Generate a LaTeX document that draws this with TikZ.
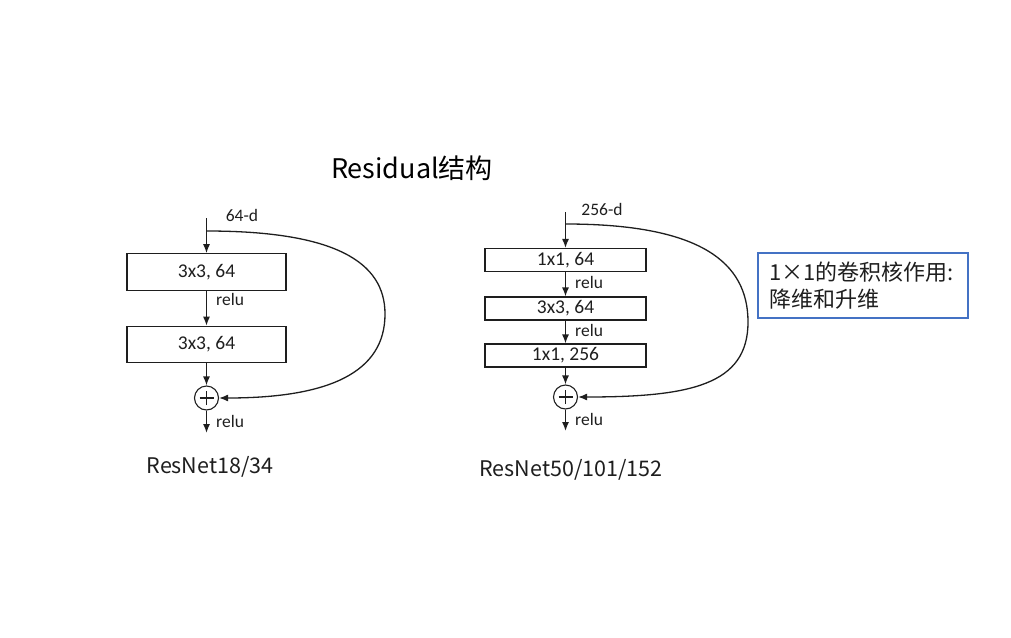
\documentclass[tikz,border=0pt]{standalone}
\usepackage{fontspec}
\setmainfont{Carlito}
\newfontfamily\cjk{Noto Sans CJK SC}
\usetikzlibrary{arrows.meta}
\definecolor{ink}{HTML}{1E1E1E}
\definecolor{bluebox}{HTML}{4472C4}
\begin{document}
\begin{tikzpicture}[x=1pt,y=-1pt,
  wide/.style={draw=ink, line width=1.1pt, minimum width=159pt, minimum height=36.5pt, inner sep=0pt, font=\fontsize{19.5}{19.5}\selectfont, text=ink},
  slim/.style={draw=ink, line width=1.1pt, minimum width=161pt, minimum height=23pt, inner sep=0pt, font=\fontsize{19.5}{19.5}\selectfont, text=ink},
  sumnode/.style={circle, draw=ink, line width=1.1pt, minimum size=24pt, inner sep=0pt,
    path picture={\draw[ink, line width=1.1pt] ([xshift=-7pt]path picture bounding box.center) -- ([xshift=7pt]path picture bounding box.center);
                  \draw[ink, line width=1.1pt] ([yshift=-7pt]path picture bounding box.center) -- ([yshift=7pt]path picture bounding box.center);}},
  lbl/.style={font=\fontsize{17.5}{17.5}\selectfont, text=ink, inner sep=0pt},
  flow/.style={draw=ink, line width=1.3pt, -{Latex[length=9pt,width=7pt]}},
  caption/.style={font=\cjk\fontsize{21.5}{21.5}\selectfont, text=ink, inner sep=0pt}
]
\useasboundingbox (0,0) rectangle (1011,637);

% title
\node[font=\cjk\fontsize{27}{27}\selectfont, text=black, inner sep=0pt] (title) at (412,168) {Residual结构};

% ---------- left block ----------
\coordinate (ltop) at (206.5,218);
\coordinate (lsplit) at (206.5,231);
\node[wide] (l1) at (206.5,272) {3x3, 64};
\node[wide] (l2) at (206.5,344.5) {3x3, 64};
\node[sumnode] (lsum) at (206.5,398) {};
\coordinate (lend) at (206.5,433);
\node[lbl] (ld) at (242,215) {64-d};
\node[lbl, anchor=west] (lr1) at (216,299) {relu};
\node[lbl, anchor=west] (lr2) at (216,421) {relu};
\draw[flow] (ltop) -- (l1.north);
\draw[flow] (l1.south) -- (l2.north);
\draw[flow] (l2.south) -- (lsum.north);
\draw[flow] (lsum.south) -- (lend);
\draw[flow] (lsplit) .. controls (335,231) and (385,262) .. (385,314)
  .. controls (385,372) and (330,398) .. (lsum.east);
\node[caption] (lcap) at (210,467) {ResNet18/34};

% ---------- right block ----------
\coordinate (rtop) at (565.5,212);
\coordinate (rsplit) at (565.5,224);
\node[slim] (r1) at (565.5,260) {1x1, 64};
\node[slim] (r2) at (565.5,308.5) {3x3, 64};
\node[slim] (r3) at (565.5,355.5) {1x1, 256};
\node[sumnode] (rsum) at (565.5,397) {};
\coordinate (rend) at (565.5,431);
\node[lbl] (rd) at (602,209) {256-d};
\node[lbl, anchor=west] (rr1) at (575,282) {relu};
\node[lbl, anchor=west] (rr2) at (575,330) {relu};
\node[lbl, anchor=west] (rr3) at (575,419) {relu};
\draw[flow] (rtop) -- (r1.north);
\draw[flow] (r1.south) -- (r2.north);
\draw[flow] (r2.south) -- (r3.north);
\draw[flow] (r3.south) -- (rsum.north);
\draw[flow] (rsum.south) -- (rend);
\draw[flow] (rsplit) .. controls (700,224) and (748,262) .. (748,322)
  .. controls (748,385) and (690,397) .. (rsum.east);
\node[caption] (rcap) at (571,470) {ResNet50/101/152};

% ---------- note box ----------
\node[draw=bluebox, line width=2.4pt, text width=188pt, inner xsep=11pt, inner ysep=6pt,
      minimum height=65pt, align=left, text=ink,
      font=\cjk\fontsize{22}{26.5}\selectfont] (note) at (863,285.5)
  {1×1的卷积核作用:\\降维和升维};
\end{tikzpicture}
\end{document}
